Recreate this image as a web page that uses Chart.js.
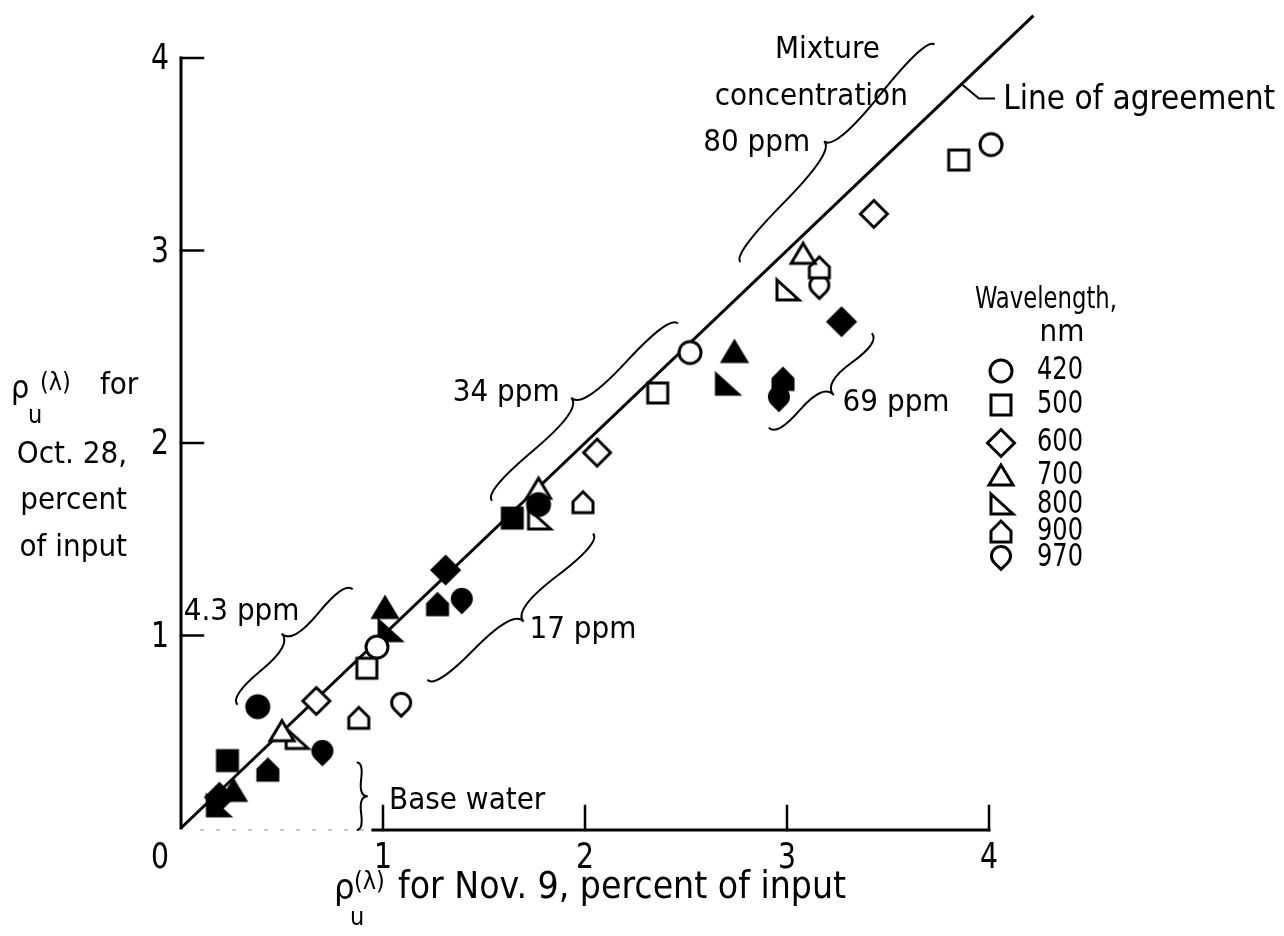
<!DOCTYPE html>
<html>
<head>
<meta charset="utf-8">
<title>rho_u(lambda) Oct. 28 x Nov. 9</title>
<script src="https://cdn.jsdelivr.net/npm/chart.js@4/dist/chart.umd.min.js"></script>
<style>
    html, body { margin: 0; padding: 0; background: #fff; }
    #grafico { display: block; }
</style>
</head>
<body>
<canvas id="grafico" width="1284" height="936"></canvas>
<script>
// =================================================================================
// DADOS
// =================================================================================

const comprimentosOnda = ['420', '500', '600', '700', '800', '900', '970'];
const concentracoes = ['Base water', '4.3 ppm', '17 ppm', '34 ppm', '69 ppm', '80 ppm'];
const concentracaoCheia = [true, false, true, false, true, false];

// rho_u(lambda) em Nov. 9 (eixo x), uma posição por concentração
const nov420 = [0.38, 0.97, 1.77, 2.52, null, 4.01];
const nov500 = [0.23, 0.92, 1.64, 2.36, null, 3.85];
const nov600 = [0.19, 0.67, 1.31, 2.06, 3.27, 3.43];
const nov700 = [0.26, 0.50, 1.01, 1.77, 2.74, 3.08];
const nov800 = [0.18, 0.57, 1.03, 1.77, 2.70, 3.00];
const nov900 = [0.43, 0.88, 1.27, 1.99, 2.98, 3.16];
const nov970 = [0.70, 1.09, 1.39, null, 2.96, 3.16];

// rho_u(lambda) em Oct. 28 (eixo y)
const oct420 = [0.63, 0.94, 1.68, 2.47, null, 3.55];
const oct500 = [0.35, 0.83, 1.61, 2.26, null, 3.47];
const oct600 = [0.16, 0.66, 1.34, 1.95, 2.63, 3.19];
const oct700 = [0.19, 0.50, 1.14, 1.76, 2.47, 2.98];
const oct800 = [0.11, 0.46, 1.02, 1.60, 2.30, 2.79];
const oct900 = [0.30, 0.57, 1.16, 1.69, 2.33, 2.91];
const oct970 = [0.39, 0.64, 1.18, null, 2.23, 2.81];

const ticksEixo = [0, 1, 2, 3, 4];
const linhaConcordancia = [0, 4.22];

const serieNov = [nov420, nov500, nov600, nov700, nov800, nov900, nov970];
const serieOct = [oct420, oct500, oct600, oct700, oct800, oct900, oct970];

// =================================================================================
// SÍMBOLOS
// =================================================================================

const FONTE = "'DejaVu Sans Condensed', 'DejaVu Sans', sans-serif";
const marcadores = ['circulo', 'quadrado', 'losango', 'triangulo', 'retangulo', 'casa', 'gota'];

function desenharSimbolo(ctx, tipo, cx, cy, cheio) {
    ctx.save();
    ctx.lineWidth = 3;
    ctx.strokeStyle = '#000';
    ctx.fillStyle = cheio ? '#000' : '#fff';
    ctx.lineJoin = 'miter';
    ctx.beginPath();
    switch (tipo) {
        case 'circulo':
            ctx.arc(cx, cy, 11, 0, Math.PI * 2);
            break;
        case 'quadrado':
            ctx.rect(cx - 10, cy - 10, 20, 20);
            break;
        case 'losango':
            ctx.moveTo(cx, cy - 13.5);
            ctx.lineTo(cx + 13.5, cy);
            ctx.lineTo(cx, cy + 13.5);
            ctx.lineTo(cx - 13.5, cy);
            ctx.closePath();
            break;
        case 'triangulo':
            ctx.moveTo(cx, cy - 11);
            ctx.lineTo(cx + 12, cy + 9);
            ctx.lineTo(cx - 12, cy + 9);
            ctx.closePath();
            break;
        case 'retangulo':
            ctx.moveTo(cx - 10, cy - 11);
            ctx.lineTo(cx + 12, cy + 9);
            ctx.lineTo(cx - 10, cy + 9);
            ctx.closePath();
            break;
        case 'casa':
            ctx.moveTo(cx - 10, cy + 10);
            ctx.lineTo(cx + 10, cy + 10);
            ctx.lineTo(cx + 10, cy - 1);
            ctx.lineTo(cx, cy - 11);
            ctx.lineTo(cx - 10, cy - 1);
            ctx.closePath();
            break;
        case 'gota':
            ctx.arc(cx, cy - 2, 9.5, Math.PI * 0.75, Math.PI * 0.25 + Math.PI * 2);
            ctx.lineTo(cx, cy - 2 + 9.5 * Math.SQRT2);
            ctx.closePath();
            break;
    }
    ctx.fill();
    ctx.stroke();
    ctx.restore();
}

function criarImagem(tipo, cheio) {
    const c = document.createElement('canvas');
    c.width = 34;
    c.height = 34;
    desenharSimbolo(c.getContext('2d'), tipo, 17, 17, cheio);
    return c;
}

const imagens = marcadores.map(t => [criarImagem(t, false), criarImagem(t, true)]);

// =================================================================================
// ANOTAÇÕES (em unidades dos dados)
// =================================================================================

const chaves = [
    { de: [0.28, 0.64], ate: [0.85, 1.24], w: -19 },
    { de: [1.22, 0.77], ate: [2.04, 1.53], w: 20 },
    { de: [1.54, 1.70], ate: [2.46, 2.62], w: -20 },
    { de: [2.91, 2.08], ate: [3.42, 2.57], w: 20 },
    { de: [2.77, 2.94], ate: [3.73, 4.07], w: -18 },
    { de: [0.87, -0.01], ate: [0.87, 0.34], w: 11 }
];

const rotulos = [
    { texto: '4.3 ppm', x: 0.30, y: 1.12, alinh: 'center', tam: 31 },
    { texto: '17 ppm', x: 1.99, y: 1.03, alinh: 'center', tam: 31 },
    { texto: '34 ppm', x: 1.61, y: 2.26, alinh: 'center', tam: 31 },
    { texto: '69 ppm', x: 3.54, y: 2.21, alinh: 'center', tam: 31 },
    { texto: '80 ppm', x: 2.85, y: 3.56, alinh: 'center', tam: 31 },
    { texto: 'Mixture', x: 3.20, y: 4.04, alinh: 'center', tam: 31 },
    { texto: 'concentration', x: 3.12, y: 3.80, alinh: 'center', tam: 31 },
    { texto: 'Base water', x: 1.03, y: 0.14, alinh: 'left', tam: 31 },
    { texto: 'Line of agreement', x: 4.07, y: 3.78, alinh: 'left', tam: 33 }
];

const guiaConcordancia = [[3.87, 3.86], [3.95, 3.79], [4.03, 3.79]];

function desenharChave(ctx, x1, y1, x2, y2, w) {
    const q = 0.6;
    const len = Math.hypot(x1 - x2, y1 - y2);
    const dx = (x1 - x2) / len, dy = (y1 - y2) / len;
    const qx1 = x1 + q * w * dy, qy1 = y1 - q * w * dx;
    const qx2 = (x1 - 0.25 * len * dx) + (1 - q) * w * dy, qy2 = (y1 - 0.25 * len * dy) - (1 - q) * w * dx;
    const tx = (x1 - 0.5 * len * dx) + w * dy, ty = (y1 - 0.5 * len * dy) - w * dx;
    const qx3 = x2 + q * w * dy, qy3 = y2 - q * w * dx;
    const qx4 = (x1 - 0.75 * len * dx) + (1 - q) * w * dy, qy4 = (y1 - 0.75 * len * dy) - (1 - q) * w * dx;
    ctx.beginPath();
    ctx.moveTo(x1, y1);
    ctx.quadraticCurveTo(qx1, qy1, qx2, qy2);
    ctx.quadraticCurveTo(2 * qx2 - qx1, 2 * qy2 - qy1, tx, ty);
    ctx.moveTo(x2, y2);
    ctx.quadraticCurveTo(qx3, qy3, qx4, qy4);
    ctx.quadraticCurveTo(2 * qx4 - qx3, 2 * qy4 - qy3, tx, ty);
    ctx.stroke();
}

// =================================================================================
// PLUGINS
// =================================================================================

const eixosPlugin = {
    id: 'eixos',
    beforeDatasetsDraw(chart) {
        const ctx = chart.ctx;
        const sx = chart.scales.x, sy = chart.scales.y;
        const x0 = sx.getPixelForValue(0), y0 = sy.getPixelForValue(0);
        ctx.save();
        ctx.strokeStyle = '#000';
        ctx.lineCap = 'square';

        // eixo y
        ctx.lineWidth = 3;
        ctx.beginPath();
        ctx.moveTo(x0, y0);
        ctx.lineTo(x0, sy.getPixelForValue(4));
        ctx.stroke();
        ctx.lineWidth = 2.5;
        ticksEixo.slice(1).forEach(v => {
            const p = sy.getPixelForValue(v);
            ctx.beginPath();
            ctx.moveTo(x0, p);
            ctx.lineTo(x0 + 22, p);
            ctx.stroke();
        });

        // eixo x (trecho inicial quase apagado no original)
        ctx.lineWidth = 3;
        ctx.beginPath();
        ctx.moveTo(sx.getPixelForValue(0.95), y0 + 2);
        ctx.lineTo(sx.getPixelForValue(4), y0 + 2);
        ctx.stroke();
        ctx.strokeStyle = '#aaa';
        ctx.lineWidth = 1.5;
        ctx.setLineDash([2, 14]);
        ctx.beginPath();
        ctx.moveTo(x0 + 20, y0 + 2);
        ctx.lineTo(sx.getPixelForValue(0.95), y0 + 2);
        ctx.stroke();
        ctx.setLineDash([]);
        ctx.strokeStyle = '#000';
        ctx.lineWidth = 2.5;
        ticksEixo.slice(1).forEach(v => {
            const p = sx.getPixelForValue(v);
            ctx.beginPath();
            ctx.moveTo(p, y0 + 2);
            ctx.lineTo(p, y0 - 22);
            ctx.stroke();
        });

        // rótulos dos ticks
        ctx.fillStyle = '#000';
        ctx.font = '36px ' + FONTE;
        ctx.textBaseline = 'middle';
        ctx.textAlign = 'center';
        ticksEixo.forEach(v => {
            const p = v === 0 ? x0 - 21 : sx.getPixelForValue(v);
            ctx.fillText(String(v), p, y0 + 31, 18);
        });
        ctx.textAlign = 'right';
        ticksEixo.slice(1).forEach(v => {
            ctx.fillText(String(v), x0 - 12, sy.getPixelForValue(v) + 2, 18);
        });
        ctx.restore();
    }
};

const anotacoesPlugin = {
    id: 'anotacoes',
    afterDatasetsDraw(chart) {
        const ctx = chart.ctx;
        const sx = chart.scales.x, sy = chart.scales.y;
        const px = v => sx.getPixelForValue(v);
        const py = v => sy.getPixelForValue(v);
        ctx.save();
        ctx.strokeStyle = '#000';
        ctx.fillStyle = '#000';

        // chaves das concentrações
        ctx.lineWidth = 2;
        chaves.forEach(c => {
            desenharChave(ctx, px(c.de[0]), py(c.de[1]), px(c.ate[0]), py(c.ate[1]), c.w);
        });

        // guia da linha de concordância
        ctx.beginPath();
        guiaConcordancia.forEach((p, i) => {
            if (i === 0) ctx.moveTo(px(p[0]), py(p[1]));
            else ctx.lineTo(px(p[0]), py(p[1]));
        });
        ctx.stroke();

        // textos
        ctx.textBaseline = 'middle';
        rotulos.forEach(r => {
            ctx.font = r.tam + 'px ' + FONTE;
            ctx.textAlign = r.alinh;
            ctx.fillText(r.texto, px(r.x), py(r.y));
        });

        // legenda
        ctx.font = '31px ' + FONTE;
        ctx.textAlign = 'left';
        ctx.fillText('Wavelength,', 975, 300, 142);
        ctx.textAlign = 'center';
        ctx.fillText('nm', 1062, 333);
        const yLegenda = [371, 405, 443, 476, 505, 532, 558];
        comprimentosOnda.forEach((nome, i) => {
            desenharSimbolo(ctx, marcadores[i], 1001, yLegenda[i], false);
            ctx.fillStyle = '#000';
            ctx.font = '32px ' + FONTE;
            ctx.textAlign = 'left';
            ctx.textBaseline = 'middle';
            ctx.fillText(nome, 1037, yLegenda[i], 46);
        });

        // título do eixo x
        ctx.textAlign = 'left';
        ctx.font = '36px ' + FONTE;
        ctx.fillText('\u03C1', 334, 890);
        ctx.font = '25px ' + FONTE;
        ctx.fillText('u', 350, 918);
        ctx.fillText('(\u03BB)', 354, 882);
        ctx.font = '37px ' + FONTE;
        ctx.fillText('for Nov. 9, percent of input', 398, 888, 456);

        // título do eixo y
        ctx.font = '32px ' + FONTE;
        ctx.fillText('\u03C1', 11, 390);
        ctx.font = '25px ' + FONTE;
        ctx.fillText('u', 28, 416);
        ctx.fillText('(\u03BB)', 40, 383);
        ctx.font = '31px ' + FONTE;
        ctx.fillText('for', 100, 386);
        ctx.textAlign = 'right';
        ctx.fillText('Oct. 28,', 127, 455);
        ctx.fillText('percent', 127, 501);
        ctx.fillText('of input', 127, 548);
        ctx.restore();
    }
};

// =================================================================================
// GRÁFICO
// =================================================================================

function montarDatasets() {
    const datasets = comprimentosOnda.map((nome, i) => {
        const pontos = [];
        serieNov[i].forEach((x, k) => {
            if (x !== null && serieOct[i][k] !== null) pontos.push({ x: x, y: serieOct[i][k], c: k });
        });
        return {
            label: nome + ' nm',
            data: pontos,
            pointStyle: ctx => imagens[i][ctx.raw && concentracaoCheia[ctx.raw.c] ? 1 : 0],
            pointRadius: 12,
            clip: false,
            order: 0
        };
    });
    datasets.push({
        type: 'line',
        label: 'Line of agreement',
        data: linhaConcordancia.map(v => ({ x: v, y: v })),
        borderColor: '#000',
        borderWidth: 3,
        pointRadius: 0,
        clip: false,
        order: 1
    });
    return datasets;
}

new Chart(document.getElementById('grafico'), {
    type: 'scatter',
    data: { datasets: montarDatasets() },
    options: {
        responsive: false,
        animation: false,
        devicePixelRatio: 1,
        events: [],
        layout: { padding: { left: 181, right: 295, top: 58, bottom: 108 } },
        scales: {
            x: { type: 'linear', min: 0, max: 4, display: false },
            y: { type: 'linear', min: 0, max: 4, display: false }
        },
        plugins: {
            legend: { display: false },
            tooltip: { enabled: false }
        }
    },
    plugins: [eixosPlugin, anotacoesPlugin]
});
</script>
</body>
</html>
